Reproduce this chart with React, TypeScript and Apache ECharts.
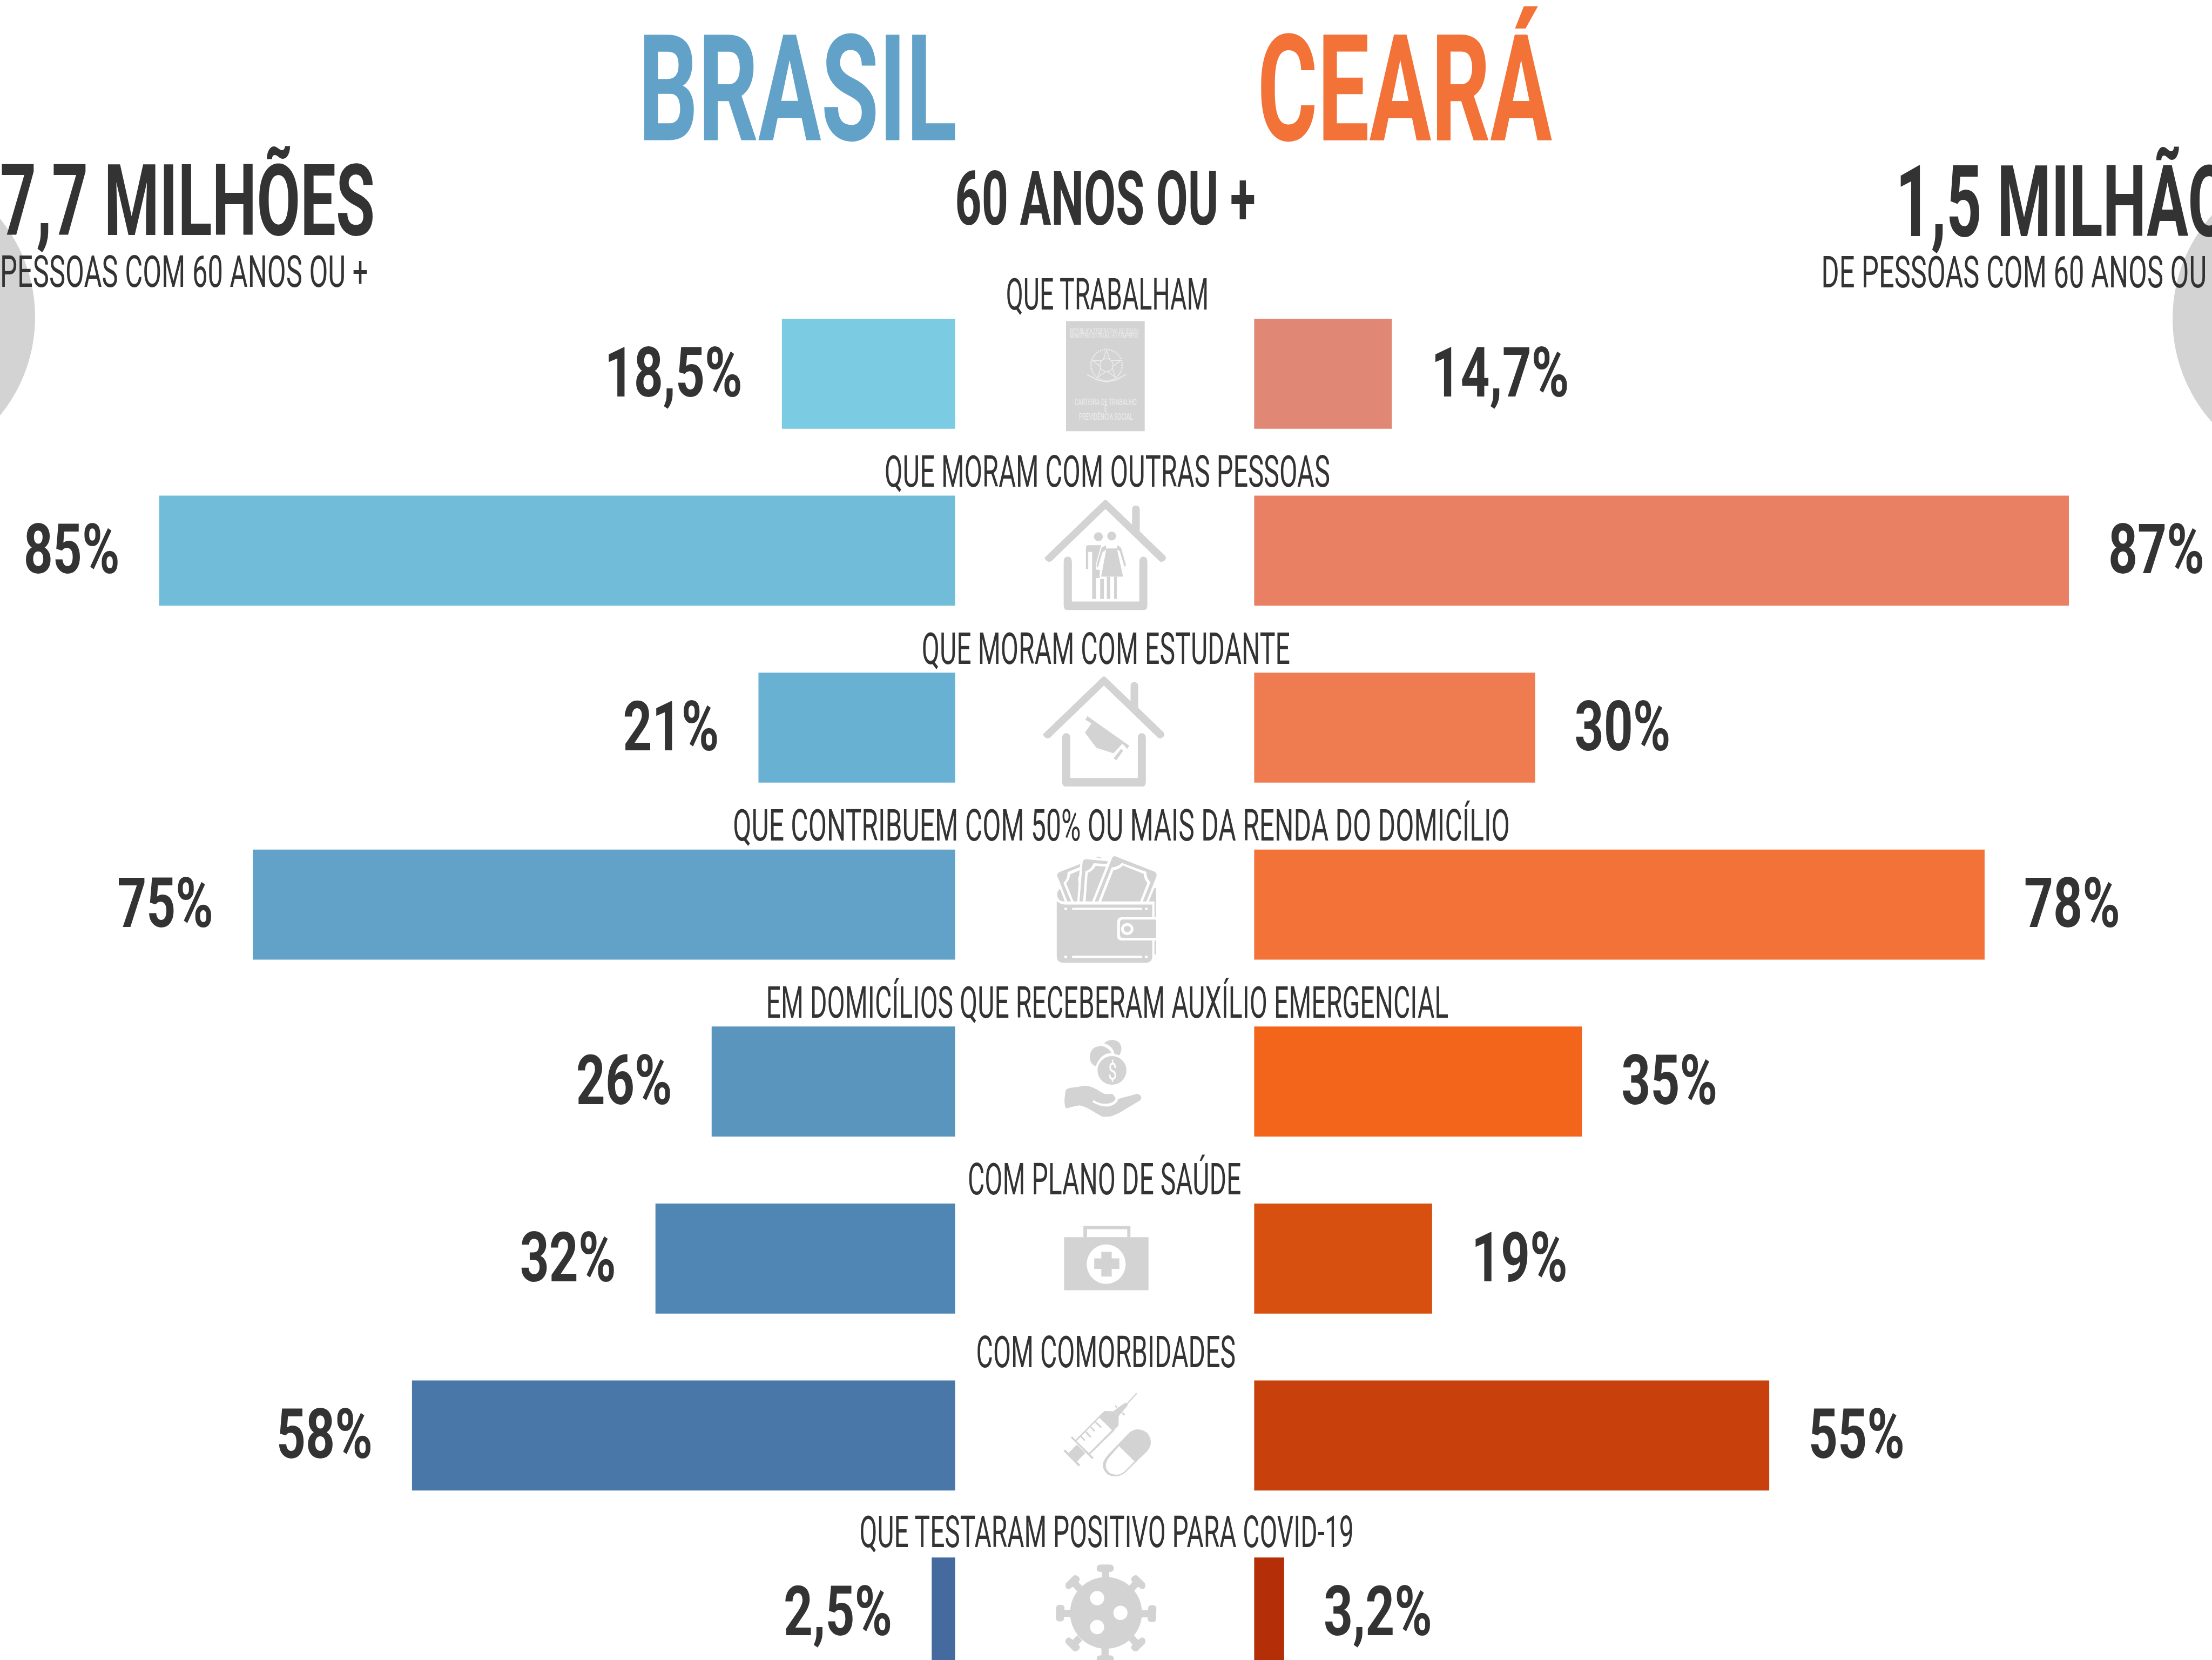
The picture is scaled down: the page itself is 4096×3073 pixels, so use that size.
import React, { useEffect, useRef } from "react";
import * as echarts from "echarts";

const categories = [
  "QUE TRABALHAM",
  "QUE MORAM COM OUTRAS PESSOAS",
  "QUE MORAM COM ESTUDANTE",
  "QUE CONTRIBUEM COM 50% OU MAIS DA RENDA DO DOMICÍLIO",
  "EM DOMICÍLIOS QUE RECEBERAM AUXÍLIO EMERGENCIAL",
  "COM PLANO DE SAÚDE",
  "COM COMORBIDADES",
  "QUE TESTARAM POSITIVO PARA COVID-19",
];
const brasilValues = [18.5, 85, 21, 75, 26, 32, 58, 2.5];
const cearaValues = [14.7, 87, 30, 78, 35, 19, 55, 3.2];
const brasilColors = ["#7BCBE2", "#71BCD9", "#69B1D3", "#62A2C8", "#5995BD", "#5086B3", "#4978A8", "#456A9E"];
const cearaColors = ["#E08875", "#E98063", "#EF7C50", "#F27237", "#F4651C", "#D8500F", "#C8410C", "#B42F07"];

// widths of the category captions in window pixels, and caption offset above each row
const categoryWidths = [144, 316, 261, 551, 484, 194, 184, 351].map((w) => w * 2.612);
const categoryCentres = [785, 785, 784, 795, 785, 783, 784, 784.5].map((x) => x * 2.612);
const categoryOffsets = [56, 56, 56, 56, 56, 56, 59, 57].map((v) => v * 2.612);

const W = 0.576;
const GREY = "#D3D3D3";
const DARK = "#333333";
const FONT = "Roboto";

const measureCtx = document.createElement("canvas").getContext("2d")!;
function fit(text: string, weight: number, size: number, target: number) {
  measureCtx.font = `${weight} ${size}px ${FONT}`;
  return target / measureCtx.measureText(text).width;
}
function refText(text: string, x0: number, x1: number, capTop: number, capBottom: number, weight: number, fill: string) {
  const fontSize = ((capBottom - capTop) * W) / 0.711;
  return {
    type: "text",
    silent: true,
    x: x0 * W,
    y: ((capTop + capBottom) / 2) * W,
    scaleX: fit(text, weight, fontSize, (x1 - x0) * W),
    style: { text, fontFamily: FONT, fontWeight: weight, fontSize, fill, align: "left", verticalAlign: "middle" },
  };
}

const registered = new Map<string, string>();
function sh(d: string, fill: string = GREY) {
  let name = registered.get(d);
  if (!name) {
    name = "ic" + registered.size;
    registered.set(d, name);
    echarts.graphic.registerShape(name, echarts.graphic.extendPath(d, {}));
  }
  return { type: name, silent: true, style: { fill } };
}
const poly = (pts: number[][], fill: string = GREY) => ({ type: "polygon", silent: true, shape: { points: pts }, style: { fill } });
const box = (x0: number, y0: number, x1: number, y1: number, fill: string = GREY) => ({
  type: "rect", silent: true, shape: { x: x0, y: y0, width: x1 - x0, height: y1 - y0 }, style: { fill },
});
const ell = (cx: number, cy: number, rx: number, ry: number, fill: string = GREY) => ({
  type: "ellipse", silent: true, shape: { cx, cy, rx, ry }, style: { fill },
});
function zoomGroup(ox: number, oy: number, fx: number, fy: number, children: any[]) {
  return { type: "group", x: ox * W, y: oy * W, scaleX: fx * W, scaleY: fy * W, children };
}
const FX = 700 / 1568;
const FY = 1600 / 1568;
const FY5 = 1033 / 1568;

const HOUSE_ROOF = "M357 775 L780 597 Q793 592 806 597 L985 672 L985 625 Q985 612 1012 612 Q1040 612 1040 625 L1040 693 L1222 770 Q1235 777 1222 784 Q1200 794 1180 786 L793 623 L406 786 Q385 794 364 784 Q350 777 357 775 Z";
const HOUSE_WALL = "M492 790 Q492 773 521 773 Q551 773 551 790 L551 914 L1037 914 L1037 790 Q1037 773 1066 773 Q1095 773 1095 790 L1095 925 Q1095 941 1070 941 L517 941 Q492 941 492 925 Z";
const SPIKE = "M505 1208 Q505 1198 520 1190 L565 1160 Q590 1155 608 1175 Q608 1188 597 1192 L625 1212 L590 1238 L558 1215 L530 1228 Q505 1225 505 1208 Z";
function mirror(d: string, mx: boolean, my: boolean) {
  return d.replace(/(\d+) (\d+)/g, (_m, a, b) => `${mx ? 1586 - +a : +a} ${my ? 2690 - +b : +b}`);
}

function buildIcons() {
  const star: number[][] = [];
  for (let i = 0; i < 10; i++) {
    const a = -Math.PI / 2 + (i * Math.PI) / 5;
    const r = i % 2 ? 11 : 27;
    star.push([r * Math.cos(a), r * Math.sin(a)]);
  }
  const LINE = "#EDEDED";
  const arms = {
    type: "group",
    x: 2049,
    y: 676,
    children: [
      { type: "circle", silent: true, shape: { r: 29 }, style: { fill: "none", stroke: LINE, lineWidth: 3, lineDash: [2, 2] } },
      { type: "polygon", silent: true, shape: { points: star }, style: { fill: GREY, stroke: LINE, lineWidth: 1.4 } },
      { type: "circle", silent: true, shape: { r: 12 }, style: { fill: GREY, stroke: LINE, lineWidth: 1.4 } },
      { type: "polyline", silent: true, shape: { points: [[-36, 17], [-18, 27], [0, 31], [18, 27], [36, 17]] }, style: { fill: "none", stroke: LINE, lineWidth: 2 } },
    ],
  };
  const tx = (s: string, a: number, b: number, cy: number, cap: number) => {
    const x0 = (3200 + a * FX);
    const x1 = (3200 + b * FX);
    const y = 1000 + cy * FY;
    return refText(s, x0, x1, y - cap / 2, y + cap / 2, 400, LINE);
  };
  return [
    box(3427 * W, 1032 * W, 3680 * W, 1386 * W),
    tx("REPÚBLICA FEDERATIVA DO BRASIL", 538, 1040, 62, 15),
    tx("MINISTÉRIO DO TRABALHO E EMPREGO", 538, 1030, 78, 15),
    tx("CARTEIRA DE TRABALHO", 570, 1017, 285, 20),
    tx("E", 784, 806, 308, 20),
    tx("PREVIDÊNCIA SOCIAL", 602, 990, 331, 20),
    arms,
    // couple's house
    zoomGroup(3200, 1000, FX, FY, [
      sh(HOUSE_ROOF),
      sh(HOUSE_WALL),
      ell(742, 710, 32, 14),
      ell(838, 708, 32, 14),
      sh("M652 812 L652 748 Q652 737 665 737 L762 737 L722 800 L728 814 L752 814 L752 840 L725 840 L725 906 L697 906 L697 758 L669 758 L669 812 Z"),
      box(755, 843, 782, 906),
      poly([[800, 747], [875, 747], [920, 836], [762, 836]]),
      poly([[795, 737], [765, 745], [728, 800], [738, 808], [770, 760], [800, 750]]),
      poly([[880, 737], [905, 745], [942, 800], [930, 805], [895, 755], [875, 750]]),
      box(803, 836, 827, 906),
      box(855, 836, 875, 906),
    ]),
    // student's house
    zoomGroup(3200 - 11 * FX, 1000 + 556 * FY, FX, FY, [sh(HOUSE_ROOF), sh(HOUSE_WALL)]),
    zoomGroup(3200, 1000, FX, FY, [
      sh("M663 1275 L965 1368 L950 1378 L915 1362 L851 1392 L728 1375 L645 1327 L692 1298 L648 1286 Z"),
      poly([[905, 1378], [920, 1384], [872, 1414], [852, 1408]]),
    ]),
    // wallet
    zoomGroup(3200, 2700, FX, FY, [
      sh("M442 192 Q470 203 500 203 L1130 203 L1130 243 L910 243 Q878 243 878 256 L878 303 Q878 316 910 316 L1130 316 L1130 365 Q1130 386 1085 386 L490 386 Q442 386 442 365 Z"),
      box(553, 213, 1058, 219, "#FFFFFF"),
      box(497, 213, 517, 219, "#FFFFFF"),
      box(1077, 213, 1097, 219, "#FFFFFF"),
      box(553, 364, 1058, 371, "#FFFFFF"),
      box(497, 364, 517, 371, "#FFFFFF"),
      box(1077, 364, 1097, 371, "#FFFFFF"),
      sh("M897 262 Q897 250 915 250 L1158 250 L1158 308 L915 308 Q897 308 897 296 Z"),
      ell(950, 280, 45, 19, "#FFFFFF"),
      ell(950, 280, 25, 10),
      box(1146, 316, 1158, 360),
      sh("M445 112 Q445 105 460 101 L612 75 L608 85 L520 101 Q522 122 490 135 L545 193 L518 193 Z"),
      sh("M510 136 Q538 123 538 108 L607 95 L604 110 Q590 122 600 135 L590 193 L563 193 Z"),
      sh("M445 170 Q445 160 465 153 L500 193 Q445 193 445 170 Z"),
      sh("M628 72 Q630 60 655 60 L812 67 L802 75 L708 73 Q690 93 648 98 L632 193 L606 193 Z"),
      sh("M665 103 Q705 97 722 81 L797 84 L697 193 L650 193 Z"),
      sh("M840 57 Q850 48 870 52 L1150 100 Q1165 105 1160 115 L1088 193 L1062 193 L1117 133 Q1088 120 1087 100 L912 72 Q880 85 838 86 L742 193 L716 193 Z"),
      sh("M850 95 Q890 93 918 80 L1068 106 Q1070 122 1095 135 L1043 193 L762 193 Z"),
      sh("M720 54 Q745 48 770 58 Z"),
      sh("M1105 193 L1145 151 L1158 151 L1158 243 L1146 243 L1146 193 Z"),
    ]),
    // hand and coins
    zoomGroup(3200, 2700, FX, FY, [
      sh("M783 640 Q810 628 845 629 Q908 632 908 658 Q905 670 892 678 Q875 674 858 673 Q850 655 820 647 Q800 641 783 640 Z"),
      sh("M680 682 Q682 660 720 652 Q790 640 838 670 Q760 670 723 712 Q680 705 680 682 Z"),
      ell(840, 725, 104, 45),
      sh("M507 787 Q520 780 560 779 L650 773 Q690 775 730 785 Q780 800 800 800 L838 799 Q860 803 866 815 Q850 830 790 830 Q740 830 708 818 L698 825 Q760 840 810 839 Q880 832 883 815 L1020 799 Q1045 800 1052 810 Q1050 818 1030 823 L895 858 Q840 870 815 871 L770 871 L715 857 Q650 838 605 835 Q540 840 515 845 Q497 842 498 820 Q500 800 507 787 Z"),
    ]),
    refText("$", 3200 + 812 * FX, 3200 + 874 * FX, 2700 + 701 * FY, 2700 + 755 * FY, 400, "#FFFFFF"),
    // medical kit
    zoomGroup(3200, 2700, FX, FY, [
      box(634, 1215, 973, 1250),
      box(660, 1225, 950, 1250, "#FFFFFF"),
      box(495, 1250, 1103, 1417),
      ell(798, 1335, 140, 62, "#FFFFFF"),
      box(763, 1296, 838, 1374),
      box(712, 1317, 893, 1350),
    ]),
    // syringe and pill
    zoomGroup(3200, 4300, FX, FY5, [
      poly([[490, 552], [502, 545], [612, 620], [600, 628]]),
      poly([[527, 562], [587, 521], [648, 562], [587, 604]]),
      poly([[543, 487], [553, 481], [708, 585], [697, 592]]),
      poly([[578, 497], [750, 380], [858, 452], [680, 570]]),
      poly([[585, 503], [750, 390], [840, 450], [674, 562]], "#FFFFFF"),
      poly([[750, 390], [840, 450], [855, 450], [887, 428], [888, 382], [850, 358], [785, 357], [750, 380]]),
      poly([[850, 358], [880, 342], [938, 315], [955, 328], [915, 360], [888, 382]]),
      poly([[945, 320], [1015, 268], [1022, 272], [950, 325]]),
      poly([[860, 333], [868, 328], [880, 338], [872, 343]]),
      poly([[910, 367], [918, 362], [935, 374], [925, 379]]),
      poly([[612, 483], [620, 478], [648, 498], [640, 504]]),
      poly([[648, 462], [656, 456], [692, 482], [684, 488]]),
      poly([[684, 438], [692, 433], [718, 452], [710, 458]]),
      poly([[718, 414], [726, 408], [768, 435], [758, 440]]),
      sh("M810 572 L965 462 Q1030 430 1095 465 Q1145 510 1095 552 L940 655 Q880 690 810 668 Q750 630 790 590 Z"),
      sh("M890 528 L1002 603 L930 652 Q880 680 825 660 Q770 630 818 585 Z", "#FFFFFF"),
    ]),
    // virus
    zoomGroup(3200, 4300, FX, FY5, [
      sh(SPIKE),
      sh(mirror(SPIKE, true, false)),
      sh(mirror(SPIKE, false, true)),
      sh(mirror(SPIKE, true, true)),
      box(768, 1140, 820, 1190),
      sh("M730 1125 Q730 1107 760 1107 L823 1107 Q853 1107 853 1125 Q853 1143 823 1143 L760 1143 Q730 1143 730 1125 Z"),
      box(764, 1500, 816, 1560),
      sh("M730 1568 Q730 1550 760 1550 L823 1550 Q853 1550 853 1568 Q853 1586 823 1586 L760 1586 Q730 1586 730 1568 Z"),
      box(1040, 1330, 1105, 1365),
      sh("M1100 1320 Q1100 1305 1130 1305 Q1160 1305 1160 1320 L1157 1373 Q1157 1388 1128 1388 Q1098 1388 1098 1373 Z"),
      box(490, 1328, 550, 1362),
      sh("M438 1318 Q438 1303 468 1303 Q498 1303 498 1318 L495 1370 Q495 1385 466 1385 Q436 1385 436 1370 Z"),
      ell(797, 1343, 259, 175),
      ell(733, 1271, 51, 35, "#FFFFFF"),
      ell(901, 1343, 51, 35, "#FFFFFF"),
      ell(733, 1412, 51, 35, "#FFFFFF"),
    ]),
  ];
}

const BAR_GAP = 73;
const valueLabel = (v: number) => String(v).replace(".", ",") + "%";

function valueSeries(values: number[], axis: number, side: "left" | "right") {
  const size = 128;
  const weight = 700;
  const scaleX = fit("85%", weight, size, 178);
  return {
    type: "custom",
    xAxisIndex: axis,
    yAxisIndex: axis,
    silent: true,
    clip: false,
    encode: { x: 0, y: 1 },
    data: values.map((v, i) => [v, i]),
    renderItem: (_p: any, api: any) => {
      const v = api.value(0);
      const [x, y] = api.coord([v, api.value(1)]);
      return {
        type: "text",
        x: x + (side === "left" ? -BAR_GAP : BAR_GAP),
        y: y - 2,
        scaleX,
        style: { text: valueLabel(v), fill: DARK, fontFamily: FONT, fontSize: size, fontWeight: weight, align: side === "left" ? "right" : "left", verticalAlign: "middle" },
      };
    },
  };
}

function categorySeries() {
  const size = 81;
  const weight = 400;
  return {
    type: "custom",
    xAxisIndex: 0,
    yAxisIndex: 0,
    silent: true,
    clip: false,
    encode: { y: 1 },
    data: categories.map((_c, i) => [0, i]),
    renderItem: (p: any, api: any) => {
      const i = p.dataIndex;
      const y = api.coord([0, api.value(1)])[1];
      return {
        type: "text",
        x: categoryCentres[i],
        y: y - categoryOffsets[i],
        scaleX: fit(categories[i], weight, size, categoryWidths[i]),
        style: { text: categories[i], fill: DARK, fontFamily: FONT, fontSize: size, fontWeight: weight, align: "center", verticalAlign: "middle" },
      };
    },
  };
}

function barSeries(values: number[], colors: string[], axis: number) {
  return {
    type: "bar",
    xAxisIndex: axis,
    yAxisIndex: axis,
    silent: true,
    barWidth: 203.7,
    data: values.map((v, i) => ({ value: v, itemStyle: { color: colors[i] } })),
  };
}

export default function App() {
  const ref = useRef<HTMLDivElement>(null);
  useEffect(() => {
    document.body.style.margin = "0";
    document.body.style.overflow = "hidden";
    const chart = echarts.init(ref.current!, null, { renderer: "svg" });
    const graphicElements = [
      { type: "circle", silent: true, shape: { cx: -223, cy: 587, r: 288 }, style: { fill: GREY } },
      { type: "circle", silent: true, shape: { cx: 4311, cy: 590, r: 288 }, style: { fill: GREY } },
      refText("BRASIL", 2052, 3076, 118, 457, 700, "#62A2C8"),
      refText("CEARÁ", 4042, 4990, 117, 457, 700, "#F27237"),
      refText("7,7 MILHÕES", 0, 1205, 534, 760, 700, DARK),
      refText("PESSOAS COM 60 ANOS OU +", 0, 1184, 823, 924, 400, DARK),
      refText("1,5 MILHÃO", 6094, 7171, 536, 762, 700, DARK),
      refText("DE PESSOAS COM 60 ANOS OU +", 5855, 7165, 825, 926, 400, DARK),
      refText("60 ANOS OU +", 3070, 4036, 555, 726, 700, DARK),
      ...buildIcons(),
    ];
    chart.setOption({
      animation: false,
      backgroundColor: "#FFFFFF",
      grid: [
        { left: 34.6, top: 528, width: 1734, height: 2620.8, outerBoundsMode: "none" },
        { left: 2322.4, top: 528, width: 1734, height: 2620.8, outerBoundsMode: "none" },
      ],
      xAxis: [
        { type: "value", gridIndex: 0, min: 0, max: 100, inverse: true, show: false },
        { type: "value", gridIndex: 1, min: 0, max: 100, show: false },
      ],
      yAxis: [
        { type: "category", gridIndex: 0, inverse: true, data: categories, show: false },
        { type: "category", gridIndex: 1, inverse: true, data: categories, show: false },
      ],
      graphic: { elements: graphicElements },
      series: [
        barSeries(brasilValues, brasilColors, 0),
        barSeries(cearaValues, cearaColors, 1),
        valueSeries(brasilValues, 0, "left"),
        valueSeries(cearaValues, 1, "right"),
        categorySeries(),
      ],
    });
    return () => chart.dispose();
  }, []);
  return <div ref={ref} style={{ width: 4096, height: 3073 }} />;
}
